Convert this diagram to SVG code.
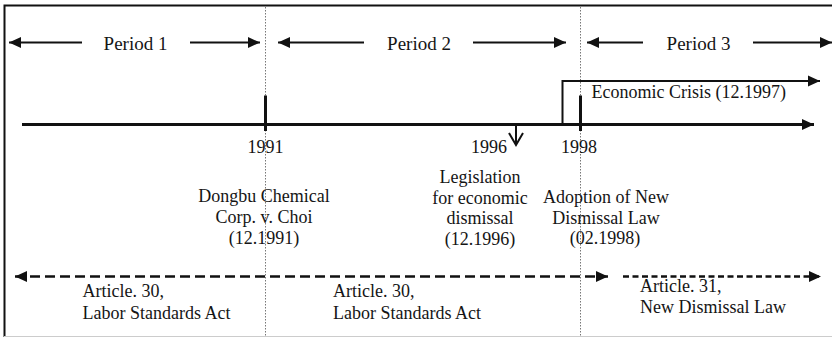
<svg xmlns="http://www.w3.org/2000/svg" width="832" height="339" viewBox="0 0 832 339">
<style>
text{font-family:"Liberation Serif","Times New Roman",serif;font-size:18px;fill:#151515}
.p{font-size:19px}
.c{text-anchor:middle}
.ln{stroke:#111;fill:none}
.dot{stroke:#777;stroke-width:1;stroke-dasharray:1.5 1.5;fill:none}
</style>
<defs>
<marker id="ah" markerUnits="userSpaceOnUse" markerWidth="13" markerHeight="12" refX="12" refY="6" orient="auto-start-reverse">
<path d="M0,0.5 L12,6 L0,11.5 z" fill="#111"/>
</marker>
</defs>
<rect x="0" y="0" width="832" height="339" fill="#fff"/>
<g id="frame">
<path d="M4.5,337 V5.5 H832" stroke="#111" stroke-width="2" fill="none"/>
<line x1="4" y1="336.5" x2="832" y2="336.5" stroke="#ccc" stroke-width="1"/>
</g>
<g id="dividers">
<line class="dot" x1="265.5" y1="7" x2="265.5" y2="336"/>
<line class="dot" x1="580.5" y1="7" x2="580.5" y2="336"/>
</g>
<g id="connectors">
<line class="ln" stroke-width="2.2" x1="82" y1="42.5" x2="9" y2="42.5" marker-end="url(#ah)"/>
<line class="ln" stroke-width="2.2" x1="190" y1="42.5" x2="260" y2="42.5" marker-end="url(#ah)"/>
<line class="ln" stroke-width="2.2" x1="364" y1="42.5" x2="278" y2="42.5" marker-end="url(#ah)"/>
<line class="ln" stroke-width="2.2" x1="473" y1="42.5" x2="566" y2="42.5" marker-end="url(#ah)"/>
<line class="ln" stroke-width="2.2" x1="643" y1="42.5" x2="587" y2="42.5" marker-end="url(#ah)"/>
<line class="ln" stroke-width="2.2" x1="753" y1="42.5" x2="832" y2="42.5" marker-end="url(#ah)"/>
<line class="ln" stroke-width="3" x1="22" y1="124.5" x2="814" y2="124.5" marker-end="url(#ah)"/>
<line class="ln" stroke-width="3" x1="265.5" y1="95.5" x2="265.5" y2="131"/>
<line class="ln" stroke-width="3" x1="580.5" y1="95.5" x2="580.5" y2="131"/>
<path class="ln" stroke-width="2" d="M562.5,124.5 V81 H820" marker-end="url(#ah)"/>
<path class="ln" stroke-width="2" d="M516,124.5 V145 M509,133 L516,145 L523,133"/>
<line class="ln" stroke-width="2.5" stroke-dasharray="10 5" x1="15" y1="276.5" x2="608" y2="276.5" marker-start="url(#ah)" marker-end="url(#ah)"/>
<line class="ln" stroke-width="2.5" stroke-dasharray="6 3.5" x1="623" y1="276.5" x2="821" y2="276.5" marker-end="url(#ah)"/>
</g>
<g id="period1"><text class="p c" x="135.5" y="50">Period 1</text></g>
<g id="period2"><text class="p c" x="419" y="50">Period 2</text></g>
<g id="period3"><text class="p c" x="698.5" y="50">Period 3</text></g>
<g id="crisis"><text x="591.5" y="98">Economic Crisis (12.1997)</text></g>
<g id="y1991"><text class="c" x="265.5" y="152.5">1991</text></g>
<g id="y1996"><text class="c" x="489" y="152.5">1996</text></g>
<g id="y1998"><text class="c" x="579" y="152.5">1998</text></g>
<g id="dongbu"><text class="c" x="264" y="202">Dongbu Chemical</text><text class="c" x="264" y="223">Corp. v. Choi</text><text class="c" x="264" y="244">(12.1991)</text></g>
<g id="legislation"><text class="c" x="480" y="183">Legislation</text><text class="c" x="480" y="203.5">for economic</text><text class="c" x="480" y="224">dismissal</text><text class="c" x="480" y="244.5">(12.1996)</text></g>
<g id="adoption"><text class="c" x="606" y="203">Adoption of New</text><text class="c" x="606" y="223.5">Dismissal Law</text><text class="c" x="605" y="244">(02.1998)</text></g>
<g id="art30a"><text x="82.5" y="297">Article. 30,</text><text x="82.5" y="319">Labor Standards Act</text></g>
<g id="art30b"><text x="333" y="297">Article. 30,</text><text x="333" y="319">Labor Standards Act</text></g>
<g id="art31"><text x="640" y="291.5">Article. 31,</text><text x="640" y="313">New Dismissal Law</text></g>
</svg>
